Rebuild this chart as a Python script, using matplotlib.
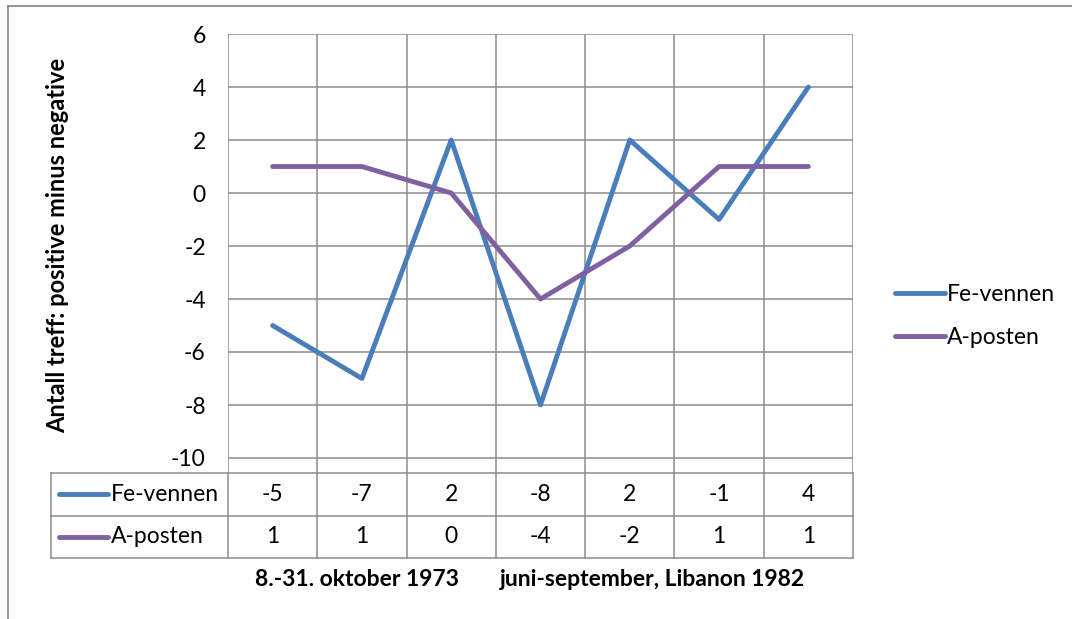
import matplotlib
matplotlib.use("Agg")
import matplotlib.pyplot as plt
from matplotlib.lines import Line2D

plt.rcParams['font.family'] = ['Lato', 'DejaVu Sans']

categories = ["1", "2", "3", "4", "5", "6", "7"]
series_names = ["Fe-vennen", "A-posten"]
fe_vennen = [-5, -7, 2, -8, 2, -1, 4]
a_posten = [1, 1, 0, -4, -2, 1, 1]
colors = ["#4A7EBB", "#7F60A0"]
yticks = [6, 4, 2, 0, -2, -4, -6, -8, -10]
group_labels = ["8.-31. oktober 1973", "juni-september, Libanon 1982"]
ylabel = "Antall treff: positive minus negative"

W, H = 1072, 619
fig = plt.figure(figsize=(W / 100, H / 100), dpi=100)
GRID = "#8C8C8C"
FS = 16.5
LW = 3.5

def fx(px):
    return px / W

def fy(py):
    return 1 - py / H

# plot area in pixels
L, R, T, B = 228, 853, 34, 473
ax = fig.add_axes([fx(L), fy(B), fx(R) - fx(L), fy(T) - fy(B)])
n = len(categories)
xs = list(range(n))
ppu = (458 - 34) / 16.0
ymin = -10 - (B - 458) / ppu
ax.set_xlim(-0.5, n - 0.5)
ax.set_ylim(ymin, 6)
for y in yticks:
    ax.axhline(y, color=GRID, lw=1.1, zorder=1)
for i in range(n + 1):
    ax.axvline(i - 0.5, color=GRID, lw=1.1, zorder=1)
for s in ax.spines.values():
    s.set_visible(False)
ax.set_xticks([])
ax.set_yticks(yticks)
ax.set_yticklabels([str(v) for v in yticks], fontsize=FS)
ax.tick_params(axis='y', length=0, pad=16)

data = [fe_vennen, a_posten]
lines = []
for vals, name, c in zip(data, series_names, colors):
    ln, = ax.plot(xs, vals, color=c, lw=LW, solid_capstyle='round',
                  solid_joinstyle='round', zorder=3, label=name)
    lines.append(ln)

fig.text(fx(58), fy(245), ylabel, fontsize=FS + 0.5, fontweight='bold',
         rotation=90, ha='center', va='center')

# legend on the right
ax.legend(handles=lines, loc='center left', bbox_to_anchor=(fx(877), fy(316)),
          bbox_transform=fig.transFigure, frameon=False, fontsize=FS,
          handlelength=2.15, handletextpad=0.12, labelspacing=1.0,
          borderpad=0.3)

# data table
TL, TT, TB = 51, 473, 558
upp = (R - L) / n
tax = fig.add_axes([fx(TL), fy(TB), fx(R) - fx(TL), fy(TT) - fy(TB)])
left_units = (L - TL) / upp
tax.set_xlim(-0.5 - left_units, n - 0.5)
tax.set_ylim(2, 0)
tax.axis('off')
x0 = -0.5 - left_units
for yy in [0, 1, 2]:
    tax.plot([x0, n - 0.5], [yy, yy], color=GRID, lw=1.1, clip_on=False)
tax.plot([x0, x0], [0, 2], color=GRID, lw=1.1, clip_on=False)
for i in range(n + 1):
    tax.plot([i - 0.5, i - 0.5], [0, 2], color=GRID, lw=1.1, clip_on=False)
key_a = x0 + (59 - TL) / upp
key_b = x0 + (108 - TL) / upp
for r, (vals, name, c) in enumerate(zip(data, series_names, colors)):
    yc = r + 0.5
    tax.plot([key_a, key_b], [yc, yc], color=c, lw=LW, solid_capstyle='round', clip_on=False)
    tax.text(key_b + 0.035, yc, name, fontsize=FS, va='center', ha='left')
    for i, v in enumerate(vals):
        tax.text(i, yc, str(v), fontsize=FS, va='center', ha='center')

# group labels
gy = 2 + (580 - TB) / ((TB - TT) / 2)
tax.text(1 - 0.05, gy, group_labels[0], fontsize=FS, fontweight='bold', ha='center', va='center', clip_on=False)
tax.text(4.25, gy, group_labels[1], fontsize=FS, fontweight='bold', ha='center', va='center', clip_on=False)

# chart border (top and left visible)
fig.add_artist(Line2D([fx(8), 1.0], [fy(5.5), fy(5.5)], color=GRID, lw=1.3))
fig.add_artist(Line2D([fx(8), fx(8)], [fy(5.5), 0], color=GRID, lw=1.3))

fig.savefig("out.png", dpi=100)
